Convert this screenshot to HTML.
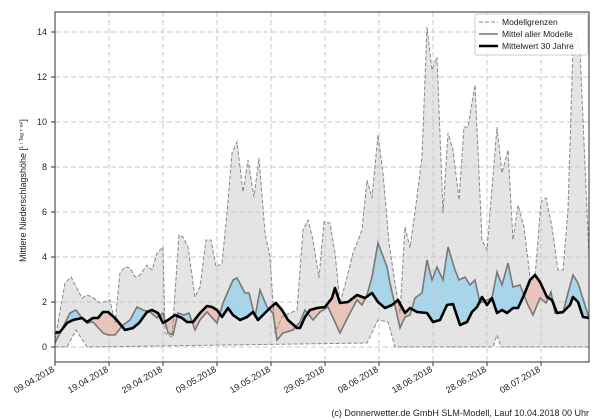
<!DOCTYPE html>
<html><head><meta charset="utf-8"><style>
body{margin:0;background:#fff;}
svg{display:block;font-family:"Liberation Sans","DejaVu Sans",sans-serif;}
</style></head><body>
<svg width="600" height="420" viewBox="0 0 600 420" xmlns="http://www.w3.org/2000/svg">
<defs>
<clipPath id="plot"><rect x="55" y="12" width="534" height="350"/></clipPath>
<clipPath id="above30"><polygon points="55,0 55,333 60,332 67,323 73,320 82,318 87,322 93,318 98,318 103,312 108,312 115,318 125,330 133,328 139,323 147,312 152,310 158,313 163,323 168,320 175,315 182,318 187,322 193,322 200,313 207,306 212,307 217,310 222,317 228,308 233,315 240,320 247,317 253,312 258,320 265,313 271,307 276,303 282,310 288,320 297,328 300,328 305,317 310,310 317,308 325,307 332,298 335,288 340,303 348,302 357,295 365,298 372,293 378,302 385,308 392,305 398,300 405,313 410,308 417,312 427,313 433,322 440,320 447,305 453,304 460,325 467,322 472,312 477,307 482,297 487,305 492,298 497,313 502,310 507,313 513,308 518,308 524,295 530,280 535,275 540,282 547,297 552,300 557,313 563,312 570,305 573,297 578,302 583,317 589,318 589,0"/></clipPath>
<clipPath id="aboveM"><polygon points="55,0 55,343 60,333 70,313 76,310 82,318 87,323 93,322 103,333 108,335 115,335 123,325 130,320 137,307 143,310 150,312 157,318 163,313 168,333 173,335 178,313 184,315 189,313 195,330 200,320 207,312 217,323 223,303 233,280 237,278 245,293 249,293 255,317 260,290 267,307 273,313 277,340 283,333 293,330 300,322 305,310 313,320 320,312 328,307 340,333 350,313 357,300 362,305 367,295 372,277 378,243 387,267 390,283 400,328 405,317 410,315 415,298 422,293 427,260 432,280 437,267 443,280 448,247 455,270 459,280 465,277 470,285 475,280 480,303 487,300 492,298 497,272 502,285 508,263 513,287 520,285 527,303 533,315 540,298 546,303 551,292 555,313 563,313 568,293 573,275 578,283 589,318 589,0"/></clipPath>
</defs>
<g clip-path="url(#plot)">
<polygon fill="#e4e4e4" points="55,340 65,283 71,277 82,298 87,295 92,297 100,303 110,300 115,323 120,273 125,267 130,268 135,277 140,275 147,265 152,270 157,253 163,247 165,333 172,337 179,235 183,237 188,247 195,297 200,287 206,240 211,240 216,267 222,263 227,213 232,153 237,142 243,192 248,160 254,197 259,158 265,233 270,257 275,333 282,317 290,313 297,310 303,230 308,220 313,240 319,278 324,222 330,223 335,253 340,303 345,285 353,253 362,230 367,180 372,198 378,135 383,173 389,243 395,283 400,313 405,227 410,248 417,197 422,157 427,27 432,70 437,57 443,213 448,133 453,150 459,200 464,127 468,127 475,85 482,240 487,250 497,127 502,173 508,150 513,240 518,205 524,227 530,277 535,277 541,202 546,198 552,227 558,270 563,270 568,210 573,47 577,37 580,50 589,257 589,347 501,347 497,335 493,347 395,347 388,322 378,320 367,343 87,347 76,330 67,347 55,347"/>
<g clip-path="url(#above30)"><polygon fill="#a8d5ea" points="55,343 60,333 70,313 76,310 82,318 87,323 93,322 103,333 108,335 115,335 123,325 130,320 137,307 143,310 150,312 157,318 163,313 168,333 173,335 178,313 184,315 189,313 195,330 200,320 207,312 217,323 223,303 233,280 237,278 245,293 249,293 255,317 260,290 267,307 273,313 277,340 283,333 293,330 300,322 305,310 313,320 320,312 328,307 340,333 350,313 357,300 362,305 367,295 372,277 378,243 387,267 390,283 400,328 405,317 410,315 415,298 422,293 427,260 432,280 437,267 443,280 448,247 455,270 459,280 465,277 470,285 475,280 480,303 487,300 492,298 497,272 502,285 508,263 513,287 520,285 527,303 533,315 540,298 546,303 551,292 555,313 563,313 568,293 573,275 578,283 589,318 589,362 55,362"/></g>
<g clip-path="url(#aboveM)"><polygon fill="#e8c4ba" points="55,333 60,332 67,323 73,320 82,318 87,322 93,318 98,318 103,312 108,312 115,318 125,330 133,328 139,323 147,312 152,310 158,313 163,323 168,320 175,315 182,318 187,322 193,322 200,313 207,306 212,307 217,310 222,317 228,308 233,315 240,320 247,317 253,312 258,320 265,313 271,307 276,303 282,310 288,320 297,328 300,328 305,317 310,310 317,308 325,307 332,298 335,288 340,303 348,302 357,295 365,298 372,293 378,302 385,308 392,305 398,300 405,313 410,308 417,312 427,313 433,322 440,320 447,305 453,304 460,325 467,322 472,312 477,307 482,297 487,305 492,298 497,313 502,310 507,313 513,308 518,308 524,295 530,280 535,275 540,282 547,297 552,300 557,313 563,312 570,305 573,297 578,302 583,317 589,318 589,362 55,362"/></g>
<g stroke="#c8c8c8" stroke-width="1" stroke-dasharray="5,3" fill="none">
<line x1="55" x2="589" y1="347" y2="347"/><line x1="55" x2="589" y1="302" y2="302"/><line x1="55" x2="589" y1="257" y2="257"/><line x1="55" x2="589" y1="212" y2="212"/><line x1="55" x2="589" y1="167" y2="167"/><line x1="55" x2="589" y1="122" y2="122"/><line x1="55" x2="589" y1="77" y2="77"/><line x1="55" x2="589" y1="32" y2="32"/>
<line y1="12" y2="362" x1="109" x2="109"/><line y1="12" y2="362" x1="163" x2="163"/><line y1="12" y2="362" x1="217" x2="217"/><line y1="12" y2="362" x1="271" x2="271"/><line y1="12" y2="362" x1="325" x2="325"/><line y1="12" y2="362" x1="379" x2="379"/><line y1="12" y2="362" x1="433" x2="433"/><line y1="12" y2="362" x1="487" x2="487"/><line y1="12" y2="362" x1="541" x2="541"/>
</g>
<polyline fill="none" stroke="#888" stroke-width="1" stroke-dasharray="4,2" points="55,340 65,283 71,277 82,298 87,295 92,297 100,303 110,300 115,323 120,273 125,267 130,268 135,277 140,275 147,265 152,270 157,253 163,247 165,333 172,337 179,235 183,237 188,247 195,297 200,287 206,240 211,240 216,267 222,263 227,213 232,153 237,142 243,192 248,160 254,197 259,158 265,233 270,257 275,333 282,317 290,313 297,310 303,230 308,220 313,240 319,278 324,222 330,223 335,253 340,303 345,285 353,253 362,230 367,180 372,198 378,135 383,173 389,243 395,283 400,313 405,227 410,248 417,197 422,157 427,27 432,70 437,57 443,213 448,133 453,150 459,200 464,127 468,127 475,85 482,240 487,250 497,127 502,173 508,150 513,240 518,205 524,227 530,277 535,277 541,202 546,198 552,227 558,270 563,270 568,210 573,47 577,37 580,50 589,257"/>
<polyline fill="none" stroke="#888" stroke-width="1" stroke-dasharray="4,2" points="55,347 67,347 76,330 87,347 367,343 378,320 388,322 395,347 493,347 497,335 501,347 589,347"/>
<polyline fill="none" stroke="#777" stroke-width="1.6" points="55,343 60,333 70,313 76,310 82,318 87,323 93,322 103,333 108,335 115,335 123,325 130,320 137,307 143,310 150,312 157,318 163,313 168,333 173,335 178,313 184,315 189,313 195,330 200,320 207,312 217,323 223,303 233,280 237,278 245,293 249,293 255,317 260,290 267,307 273,313 277,340 283,333 293,330 300,322 305,310 313,320 320,312 328,307 340,333 350,313 357,300 362,305 367,295 372,277 378,243 387,267 390,283 400,328 405,317 410,315 415,298 422,293 427,260 432,280 437,267 443,280 448,247 455,270 459,280 465,277 470,285 475,280 480,303 487,300 492,298 497,272 502,285 508,263 513,287 520,285 527,303 533,315 540,298 546,303 551,292 555,313 563,313 568,293 573,275 578,283 589,318"/>
<polyline fill="none" stroke="#000" stroke-width="2.6" stroke-linejoin="round" points="55,333 60,332 67,323 73,320 82,318 87,322 93,318 98,318 103,312 108,312 115,318 125,330 133,328 139,323 147,312 152,310 158,313 163,323 168,320 175,315 182,318 187,322 193,322 200,313 207,306 212,307 217,310 222,317 228,308 233,315 240,320 247,317 253,312 258,320 265,313 271,307 276,303 282,310 288,320 297,328 300,328 305,317 310,310 317,308 325,307 332,298 335,288 340,303 348,302 357,295 365,298 372,293 378,302 385,308 392,305 398,300 405,313 410,308 417,312 427,313 433,322 440,320 447,305 453,304 460,325 467,322 472,312 477,307 482,297 487,305 492,298 497,313 502,310 507,313 513,308 518,308 524,295 530,280 535,275 540,282 547,297 552,300 557,313 563,312 570,305 573,297 578,302 583,317 589,318"/>
</g>
<rect x="55" y="12" width="534" height="350" fill="none" stroke="#333" stroke-width="1"/>
<g font-size="9" fill="#222" text-anchor="end">
<text x="47" y="350">0</text><text x="47" y="305">2</text><text x="47" y="260">4</text><text x="47" y="215">6</text><text x="47" y="170">8</text><text x="47" y="125">10</text><text x="47" y="80">12</text><text x="47" y="35">14</text>
</g>
<g stroke="#333"><line x1="51" x2="55" y1="347" y2="347"/><line x1="51" x2="55" y1="302" y2="302"/><line x1="51" x2="55" y1="257" y2="257"/><line x1="51" x2="55" y1="212" y2="212"/><line x1="51" x2="55" y1="167" y2="167"/><line x1="51" x2="55" y1="122" y2="122"/><line x1="51" x2="55" y1="77" y2="77"/><line x1="51" x2="55" y1="32" y2="32"/>
<line y1="362" y2="366" x1="55" x2="55"/><line y1="362" y2="366" x1="109" x2="109"/><line y1="362" y2="366" x1="163" x2="163"/><line y1="362" y2="366" x1="217" x2="217"/><line y1="362" y2="366" x1="271" x2="271"/><line y1="362" y2="366" x1="325" x2="325"/><line y1="362" y2="366" x1="379" x2="379"/><line y1="362" y2="366" x1="433" x2="433"/><line y1="362" y2="366" x1="487" x2="487"/><line y1="362" y2="366" x1="541" x2="541"/></g>
<g font-size="9" fill="#222" text-anchor="end">
<text transform="translate(55,371) rotate(-30)">09.04.2018</text>
<text transform="translate(109,371) rotate(-30)">19.04.2018</text>
<text transform="translate(163,371) rotate(-30)">29.04.2018</text>
<text transform="translate(217,371) rotate(-30)">09.05.2018</text>
<text transform="translate(271,371) rotate(-30)">19.05.2018</text>
<text transform="translate(325,371) rotate(-30)">29.05.2018</text>
<text transform="translate(379,371) rotate(-30)">08.06.2018</text>
<text transform="translate(433,371) rotate(-30)">18.06.2018</text>
<text transform="translate(487,371) rotate(-30)">28.06.2018</text>
<text transform="translate(541,371) rotate(-30)">08.07.2018</text>
</g>
<text transform="translate(26,262) rotate(-90)" font-size="9" fill="#222">Mittlere Niederschlagshöhe [<tspan font-size="5" dy="-3">L / Tag × m²</tspan><tspan dy="3">]</tspan></text>
<g>
<rect x="475" y="14" width="113" height="41" fill="#fff" fill-opacity="0.85" stroke="#ccc" rx="2"/>
<line x1="479" x2="498" y1="22" y2="22" stroke="#888" stroke-dasharray="4,2"/>
<line x1="479" x2="498" y1="34" y2="34" stroke="#777" stroke-width="1.6"/>
<line x1="479" x2="498" y1="46" y2="46" stroke="#000" stroke-width="2.6"/>
<g font-size="8.5" fill="#222"><text x="502" y="25">Modellgrenzen</text><text x="502" y="37">Mittel aller Modelle</text><text x="502" y="49">Mittelwert 30 Jahre</text></g>
</g>
<text x="589" y="416" font-size="9" fill="#222" text-anchor="end">(c) Donnerwetter.de GmbH SLM-Modell, Lauf 10.04.2018 00 Uhr</text>
</svg>
</body></html>
